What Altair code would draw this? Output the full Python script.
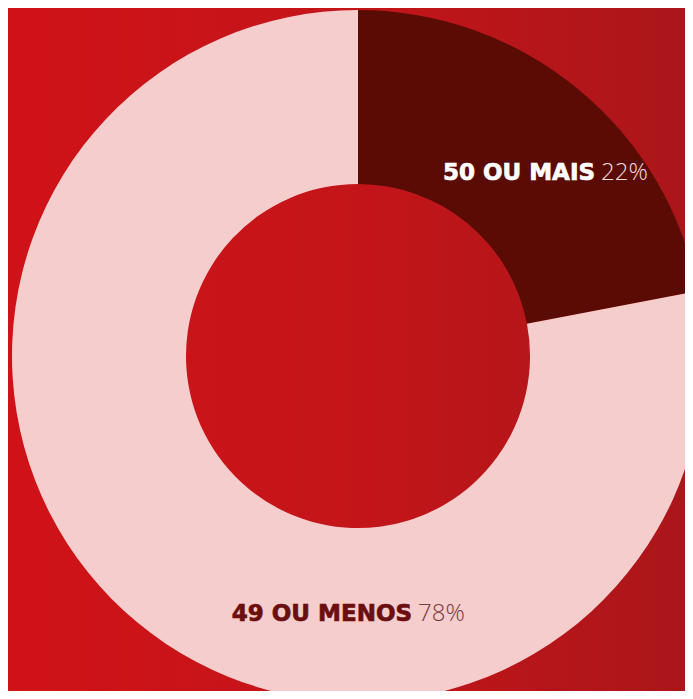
import altair as alt
import pandas as pd

categories = ["50 OU MAIS", "49 OU MENOS"]
values = [22, 78]
pct_labels = ["22%", "78%"]
slice_colors = ["#5a0c04", "#f4cdcc"]
order = [1, 2]

df = pd.DataFrame({"cat": categories, "value": values, "pct": pct_labels, "order": order})

W, H = 677, 683
CX, CY = 350, 348

bg = alt.Chart(pd.DataFrame({"a": [0]})).mark_rect(
    fill=alt.LinearGradient(
        gradient="linear",
        stops=[alt.GradientStop(color="#d01218", offset=0),
               alt.GradientStop(color="#c41519", offset=0.5),
               alt.GradientStop(color="#aa161a", offset=1)],
        x1=0, x2=1, y1=0, y2=0,
    )
).encode(x=alt.value(-8), x2=alt.value(W + 8), y=alt.value(-8), y2=alt.value(H + 8))

arcs = alt.Chart(df).mark_arc(outerRadius=346, innerRadius=172).encode(
    theta=alt.Theta("value:Q", stack=True),
    order=alt.Order("order:Q"),
    color=alt.Color("cat:N", scale=alt.Scale(domain=categories, range=slice_colors), legend=None),
    x=alt.value(CX), y=alt.value(CY),
)

def label(cat, bx, by, name_color, pct_color):
    base = alt.Chart(df).transform_filter(alt.datum.cat == cat)
    name = base.mark_text(font="DejaVu Sans", fontSize=23, fontWeight="bold", align="right",
                          baseline="alphabetic", color=name_color, stroke=name_color,
                          strokeWidth=0.7).encode(
        text="cat:N", x=alt.value(bx), y=alt.value(by))
    pct = base.mark_text(font="Open Sans", fontSize=24, fontWeight=300, align="left",
                         baseline="alphabetic", color=pct_color).encode(
        text="pct:N", x=alt.value(bx + 6), y=alt.value(by))
    return name + pct

lab1 = label("50 OU MAIS", 587, 172, "#ffffff", "#f6dada")
lab2 = label("49 OU MENOS", 404, 613, "#6a0e10", "#7a3a3a")

chart = alt.layer(bg, arcs, lab1, lab2).properties(
    width=W, height=H, padding=0, background="#c41519",
    autosize=alt.AutoSizeParams(type="none"),
).configure_view(stroke=None)

chart.save("out.html", embed_options={"renderer": "svg", "actions": False})
